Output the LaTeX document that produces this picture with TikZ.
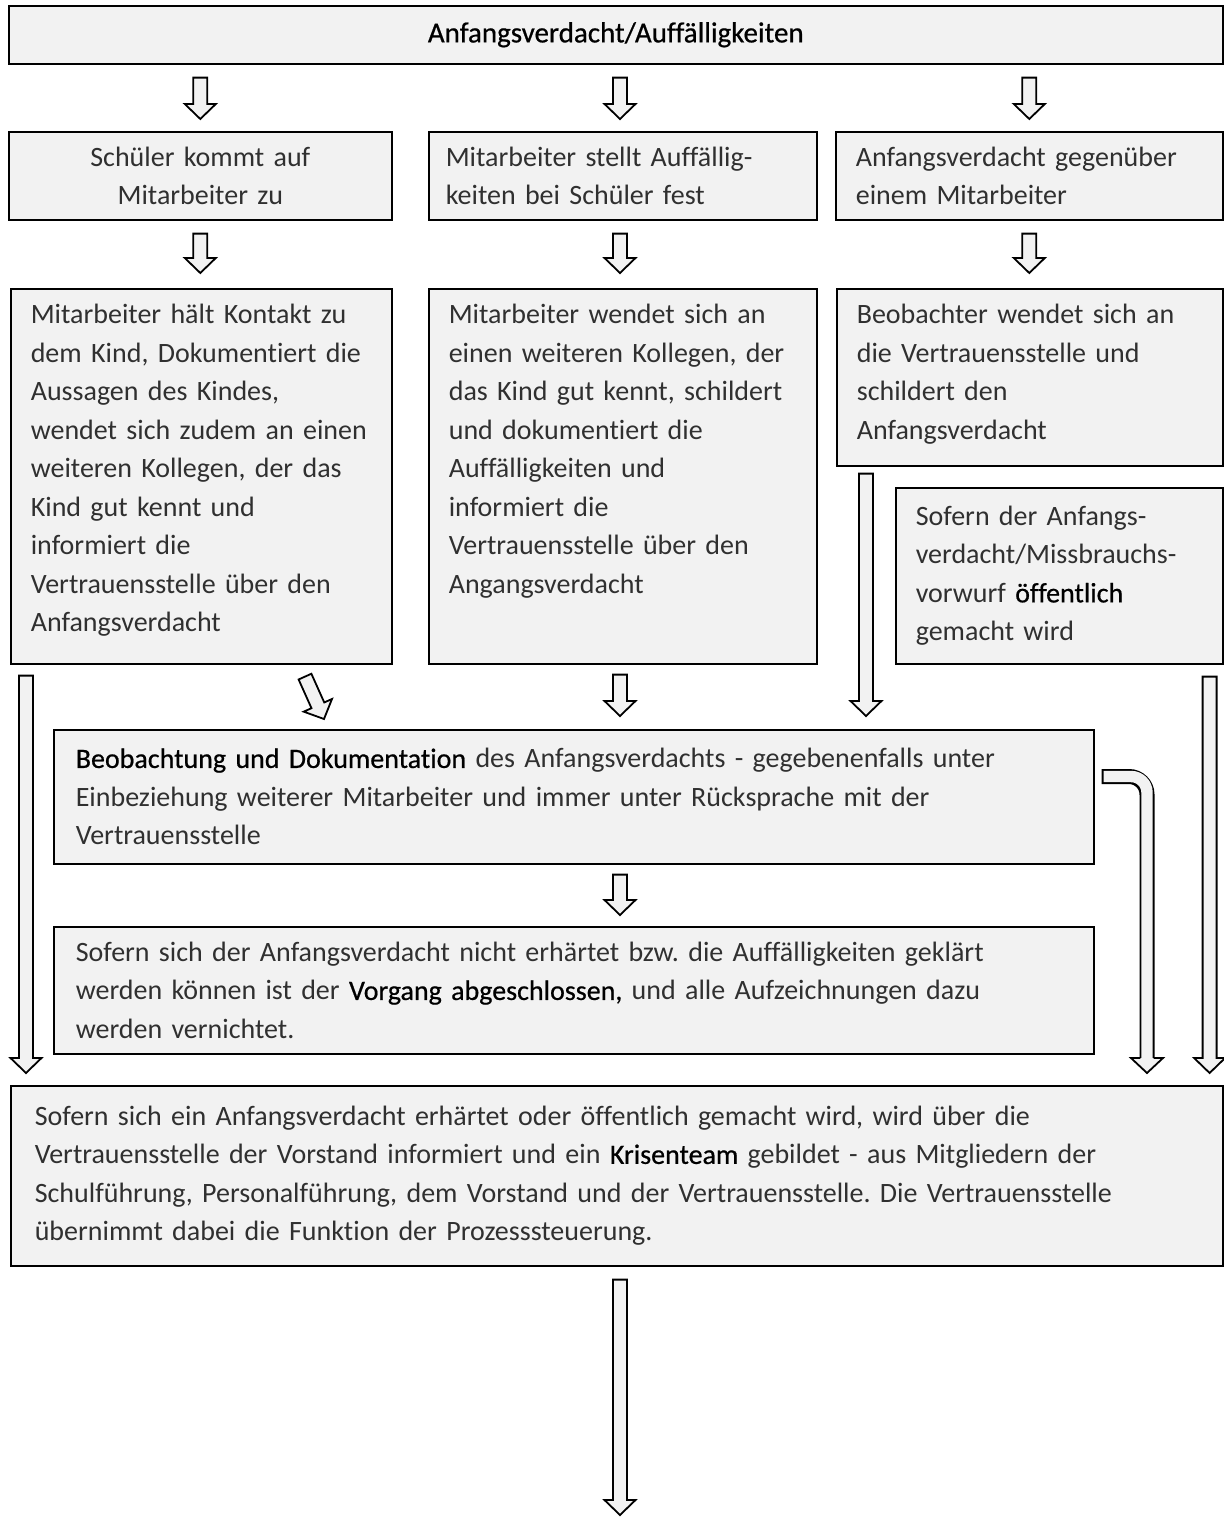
\documentclass[tikz,border=0pt]{standalone}
\usepackage{fontspec}
\setmainfont{Carlito}[Ligatures=NoCommon]
\newfontfamily\emphfont{Carlito}[Ligatures=NoCommon, FakeBold=0.6]
\usetikzlibrary{positioning,calc}

\definecolor{cardfill}{HTML}{F2F2F2}
\definecolor{bodyink}{HTML}{303030}

% emphasised words
\newcommand{\hi}[1]{{\emphfont\color{black}#1}}

% block arrow from #1 to #2
\newcommand{\blockarrow}[2]{%
	\coordinate (ha) at ($(#2)!15pt!(#1)$);
	\draw[arrowline] ($(#1)!7pt!90:(#2)$) -- ($(ha)!7pt!90:(#2)$)
		-- ($(ha)!15.5pt!90:(#2)$) -- (#2) -- ($(ha)!15.5pt!-90:(#2)$)
		-- ($(ha)!7pt!-90:(#2)$) -- ($(#1)!7pt!-90:(#2)$) -- cycle;
}

\frenchspacing

\begin{document}
\begin{tikzpicture}
	% Styles
	[
	x=1pt, y=-1pt,
	card/.style={draw=black, line width=1.6pt, fill=cardfill, anchor=north west,
		inner xsep=20pt, inner ysep=0pt, align=left, text=bodyink,
		font=\fontsize{28}{38.5}\selectfont},
	arrowline/.style={draw=black, line width=1.8pt, fill=cardfill, line join=miter},
	]

	\useasboundingbox (0,0) rectangle (1224,1519);

	% Nodes
	\node at (8,5)     (top) [card, minimum width=1214pt, minimum height=58pt, align=center, text width=1170pt, font=\fontsize{29}{36}\emphfont, text=black] {Anfangsverdacht/Auffälligkeiten};

	\node at (8,131)   (a2)  [card, minimum width=383pt, minimum height=88pt, text width=343pt, align=center] {Schüler kommt auf\\Mitarbeiter zu};
	\node at (428,131) (b2)  [card, minimum width=388pt, minimum height=88pt, text width=354pt, inner xsep=17pt] {Mitarbeiter stellt Auffällig-\\keiten bei Schüler fest};
	\node at (835,131) (c2)  [card, minimum width=387pt, minimum height=88pt, text width=347pt] {Anfangsverdacht gegenüber\\einem Mitarbeiter};

	\node at (10,288)  (a3)  [card, minimum width=381pt, minimum height=375pt, text width=341pt] {Mitarbeiter hält Kontakt zu\\dem Kind, Dokumentiert die\\Aussagen des Kindes,\\wendet sich zudem an einen\\weiteren Kollegen, der das\\Kind gut kennt und\\informiert die\\Vertrauensstelle über den\\Anfangsverdacht\par\vspace*{12pt}};
	\node at (428,288) (b3)  [card, minimum width=388pt, minimum height=375pt, text width=348pt] {Mitarbeiter wendet sich an\\einen weiteren Kollegen, der\\das Kind gut kennt, schildert\\und dokumentiert die\\Auffälligkeiten und\\informiert die\\Vertrauensstelle über den\\Angangsverdacht\par\vspace*{50pt}};
	\node at (836,288) (c3)  [card, minimum width=386pt, minimum height=177pt, text width=346pt] {Beobachter wendet sich an\\die Vertrauensstelle und\\schildert den\\Anfangsverdacht\par\vspace*{6pt}};
	\node at (895,487) (d3)  [card, minimum width=327pt, minimum height=176pt, text width=287pt] {Sofern der Anfangs-\\verdacht/Missbrauchs-\\vorwurf \hi{öffentlich}\\gemacht wird};

	\node at (53,729)  (beob) [card, minimum width=1040pt, minimum height=134pt, text width=996pt, inner xsep=22pt] {\hi{Beobachtung und Dokumentation} des Anfangsverdachts - gegebenenfalls unter\\Einbeziehung weiterer Mitarbeiter und immer unter Rücksprache mit der\\Vertrauensstelle};
	\node at (53,926)  (ende) [card, minimum width=1040pt, minimum height=127pt, text width=996pt, inner xsep=22pt] {Sofern sich der Anfangsverdacht nicht erhärtet bzw. die Auffälligkeiten geklärt\\werden können ist der \hi{Vorgang abgeschlossen,} und alle Aufzeichnungen dazu\\werden vernichtet.};
	\node at (10,1085) (krise) [card, minimum width=1212pt, minimum height=180pt, text width=1164pt, inner xsep=24pt] {Sofern sich ein Anfangsverdacht erhärtet oder öffentlich gemacht wird, wird über die\\Vertrauensstelle der Vorstand informiert und ein \hi{Krisenteam} gebildet - aus Mitgliedern der\\Schulführung, Personalführung, dem Vorstand und der Vertrauensstelle. Die Vertrauensstelle\\übernimmt dabei die Funktion der Prozesssteuerung.};

	% Free ends
	\coordinate (out) at (620,1515);
	\coordinate (bendstart) at ($(beob.north east)+(9,47.5)$);
	\coordinate (bendtip) at ($(krise.north west)+(1137,-12)$);
	\coordinate (bendhead) at ($(bendtip)+(0,-15)$);

	% Connections
	\blockarrow{$(top.south -| a2.north)+(0,13)$}{$(a2.north)+(0,-12)$}
	\blockarrow{$(top.south -| 620,0)+(0,13)$}{$(b2.north -| 620,0)+(0,-12)$}
	\blockarrow{$(top.south -| c2.north)+(0,13)$}{$(c2.north)+(0,-12)$}

	\blockarrow{$(a2.south)+(0,13)$}{$(a3.north -| a2.south)+(0,-15)$}
	\blockarrow{$(b2.south -| 620,0)+(0,13)$}{$(b3.north -| 620,0)+(0,-15)$}
	\blockarrow{$(c2.south)+(0,13)$}{$(c3.north -| c2.south)+(0,-15)$}

	\blockarrow{$(a3.south west)+(295,12)$}{$(beob.north west)+(271,-10)$}
	\blockarrow{$(b3.south -| 620,0)+(0,10)$}{$(beob.north -| 620,0)+(0,-13)$}
	\blockarrow{$(c3.south west)+(30,7)$}{$(beob.north west)+(813,-13)$}

	\blockarrow{$(beob.south -| 620,0)+(0,10)$}{$(ende.north -| 620,0)+(0,-11)$}

	\blockarrow{$(a3.south west)+(16,11)$}{$(krise.north west)+(16,-12)$}
	\blockarrow{$(d3.south east)+(-14,12)$}{$(krise.north east)+(-14,-12)$}
	\blockarrow{$(krise.south -| 620,0)+(0,13)$}{out}

	% bent arrow from the Beobachtung box
	\draw[line width=15pt, black, rounded corners=18pt] ($(bendstart)+(-2,0)$) -| (bendhead);
	\draw[line width=11.4pt, cardfill, rounded corners=16pt] (bendstart) -| ($(bendhead)+(0,1)$);
	\fill[cardfill] ($(bendhead)+(-16,0)$) -- (bendtip) -- ($(bendhead)+(16,0)$) -- cycle;
	\draw[line width=1.8pt, line join=miter] ($(bendhead)+(-6.6,0)$) -- ($(bendhead)+(-16,0)$) -- (bendtip) -- ($(bendhead)+(16,0)$) -- ($(bendhead)+(6.6,0)$);

\end{tikzpicture}
\end{document}
